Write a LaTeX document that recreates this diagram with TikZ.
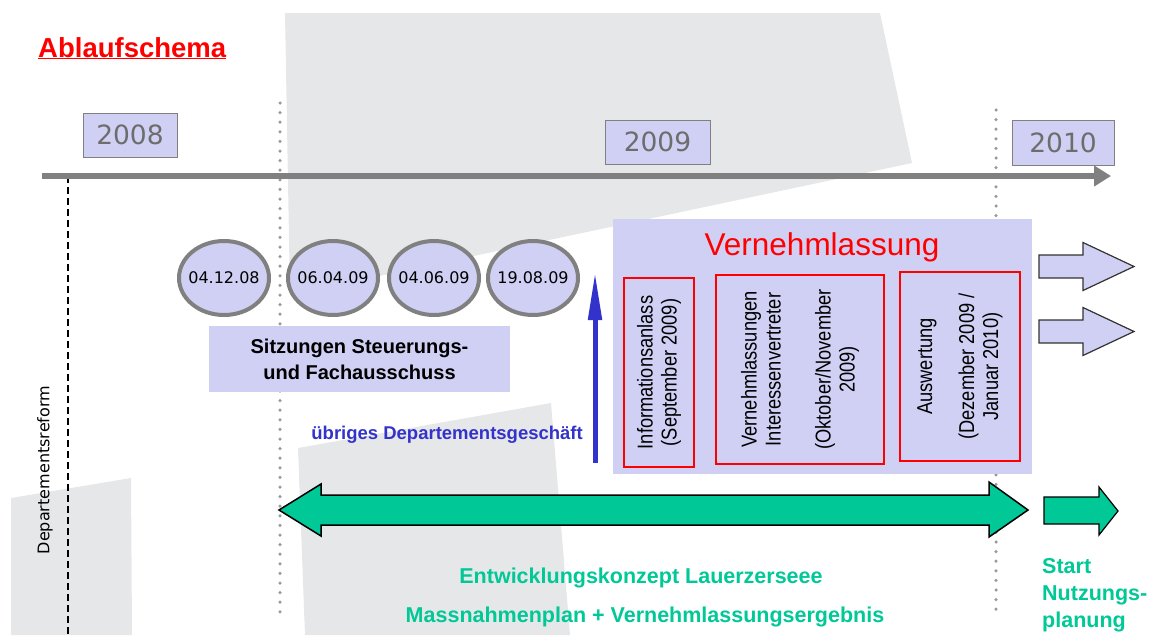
\documentclass[tikz,border=0pt]{standalone}
\usepackage{fontspec}
\setmainfont{Liberation Sans}
\newfontfamily\vfont{DejaVu Sans}
\newfontfamily\narrowfont[FakeStretch=0.85]{Liberation Sans}
\usetikzlibrary{shapes.geometric,arrows.meta}

\definecolor{lavender}{RGB}{208,208,244}
\definecolor{paper}{RGB}{230,231,232}
\definecolor{axisgray}{RGB}{128,128,128}
\definecolor{mint}{RGB}{0,200,150}
\definecolor{ink}{RGB}{51,51,204}

\tikzset{
  yearbox/.style={draw=axisgray, line width=1pt, fill=lavender, text=axisgray!85!black, inner sep=0pt, font=\vfont\fontsize{26.5}{30}\selectfont},
  datebubble/.style={ellipse, draw=axisgray, line width=4pt, fill=lavender, minimum width=90pt, minimum height=74pt, inner xsep=-8pt, inner ysep=0pt, font=\vfont\fontsize{16}{18}\selectfont},
  stagebox/.style={draw=red, line width=1.2pt, fill=lavender, rotate=90, align=center, inner sep=0pt, font=\narrowfont\fontsize{21.5}{24}\selectfont},
  yearline/.style={axisgray!80, line width=3.5pt, line cap=round, dash pattern=on 0pt off 9.6pt},
  mintarrow/.style={fill=mint, draw=black, line width=1.5pt, line join=miter},
  mintlabel/.style={text=mint, font=\bfseries\fontsize{21.5}{27}\selectfont},
}

\begin{document}
\begin{tikzpicture}[x=1pt,y=-1pt]
  \useasboundingbox (0,0) rectangle (1153,635);

  % background
  \fill[paper] (285,13) -- (880,13) -- (912,163) -- (290,295) -- cycle;
  \fill[paper] (298,448) -- (551,403) -- (570,635) -- (305,635) -- cycle;
  \fill[paper] (11,498) -- (131,478) -- (132,635) -- (11,635) -- cycle;

  \node[anchor=base west, text=red, inner sep=0pt, font=\bfseries\fontsize{27.5}{30}\selectfont] (title) at (38,57) {\underline{Ablaufschema}};

  % year borders
  \coordinate (reformtop) at (68,176);
  \coordinate (reformbot) at (68,635);
  \draw[black, line width=1.3pt, dash pattern=on 7pt off 4pt] (reformtop) -- (reformbot);
  \coordinate (sepAtop) at (280,103);
  \coordinate (sepAbot) at (280,612);
  \draw[yearline] (sepAtop) -- (sepAbot);
  \coordinate (sepBtop) at (996,110);
  \coordinate (sepBbot) at (996,618);
  \draw[yearline] (sepBtop) -- (sepBbot);

  \node[rotate=90, font=\vfont\fontsize{16}{18}\selectfont] (reform) at (45,470) {Departementsreform};

  % time axis
  \coordinate (axisstart) at (42,176);
  \coordinate (axisend) at (1111,176);
  \draw[axisgray, line width=6pt, -{Triangle[length=17pt,width=20pt]}] (axisstart) -- (axisend);

  \node[yearbox, minimum width=94pt, minimum height=44pt] (y2008) at (130,135) {2008};
  \node[yearbox, minimum width=105pt, minimum height=44pt] (y2009) at (657.5,142) {2009};
  \node[yearbox, minimum width=102pt, minimum height=45pt] (y2010) at (1063,142.5) {2010};

  % meetings
  \foreach \x/\d [count=\i] in {224/04.12.08, 333/06.04.09, 434/04.06.09, 533/19.08.09}
    \node[datebubble] (date\i) at (\x,278) {\d};

  \node[fill=lavender, minimum width=301pt, minimum height=66pt, align=center, inner sep=0pt, font=\bfseries\fontsize{20}{26}\selectfont] (sitzung) at (359.5,359) {Sitzungen Steuerungs-\\und Fachausschuss};

  \coordinate (busyfoot) at (595,463);
  \coordinate (busytip) at (595,272);
  \draw[ink, line width=5pt, -{Triangle[length=48pt,width=13pt]}] (busyfoot) -- (busytip);
  \node[anchor=base east, inner sep=0pt, text=ink, font=\bfseries\fontsize{18.5}{22}\selectfont] (busy) at (583,439) {übriges Departementsgeschäft};

  % consultation
  \node[fill=lavender, minimum width=419pt, minimum height=255pt, inner sep=0pt] (vern) at (822.5,346.5) {};
  \node[anchor=base, inner sep=0pt, text=red, font=\fontsize{31.5}{34}\selectfont] (verntitle) at (822,255) {Vernehmlassung};

  \node[stagebox, minimum width=189pt, minimum height=70pt] (info) at (659,372.5) {Informationsanlass\\(September 2009)};
  \node[stagebox, minimum width=189pt, minimum height=168pt] (hearing) at (800,369.5) {Vernehmlassungen\\Interessenvertreter\\[26pt](Oktober/November\\2009)};
  \node[stagebox, minimum width=189pt, minimum height=120pt] (review) at (960,366.5) {Auswertung\\[18pt](Dezember 2009 /\\Januar 2010)};

  \foreach \y in {266.5, 331.5}
    \draw[fill=lavender, draw=black!80, line width=1.2pt] (1039,\y-11.5) -- (1083,\y-11.5) -- (1083,\y-24) -- (1134,\y) -- (1083,\y+24) -- (1083,\y+11.5) -- (1039,\y+11.5) -- cycle;

  % concept period
  \draw[mintarrow] (279,510) -- (321,484) -- (321,495) -- (989,495) -- (989,482) -- (1028,510) -- (989,537) -- (989,525) -- (321,525) -- (321,536) -- cycle;
  \draw[mintarrow, line width=1.2pt] (1044,497) -- (1099,497) -- (1099,487) -- (1118,511) -- (1099,535) -- (1099,524) -- (1044,524) -- cycle;

  \node[mintlabel] (concept) at (641,578) {Entwicklungskonzept Lauerzerseee};
  \node[mintlabel] (plan) at (645,617) {Massnahmenplan + Vernehmlassungsergebnis};
  \node[mintlabel, anchor=north west, align=left, inner sep=0pt] (start) at (1042,558) {Start\\Nutzungs-\\planung};
\end{tikzpicture}
\end{document}
